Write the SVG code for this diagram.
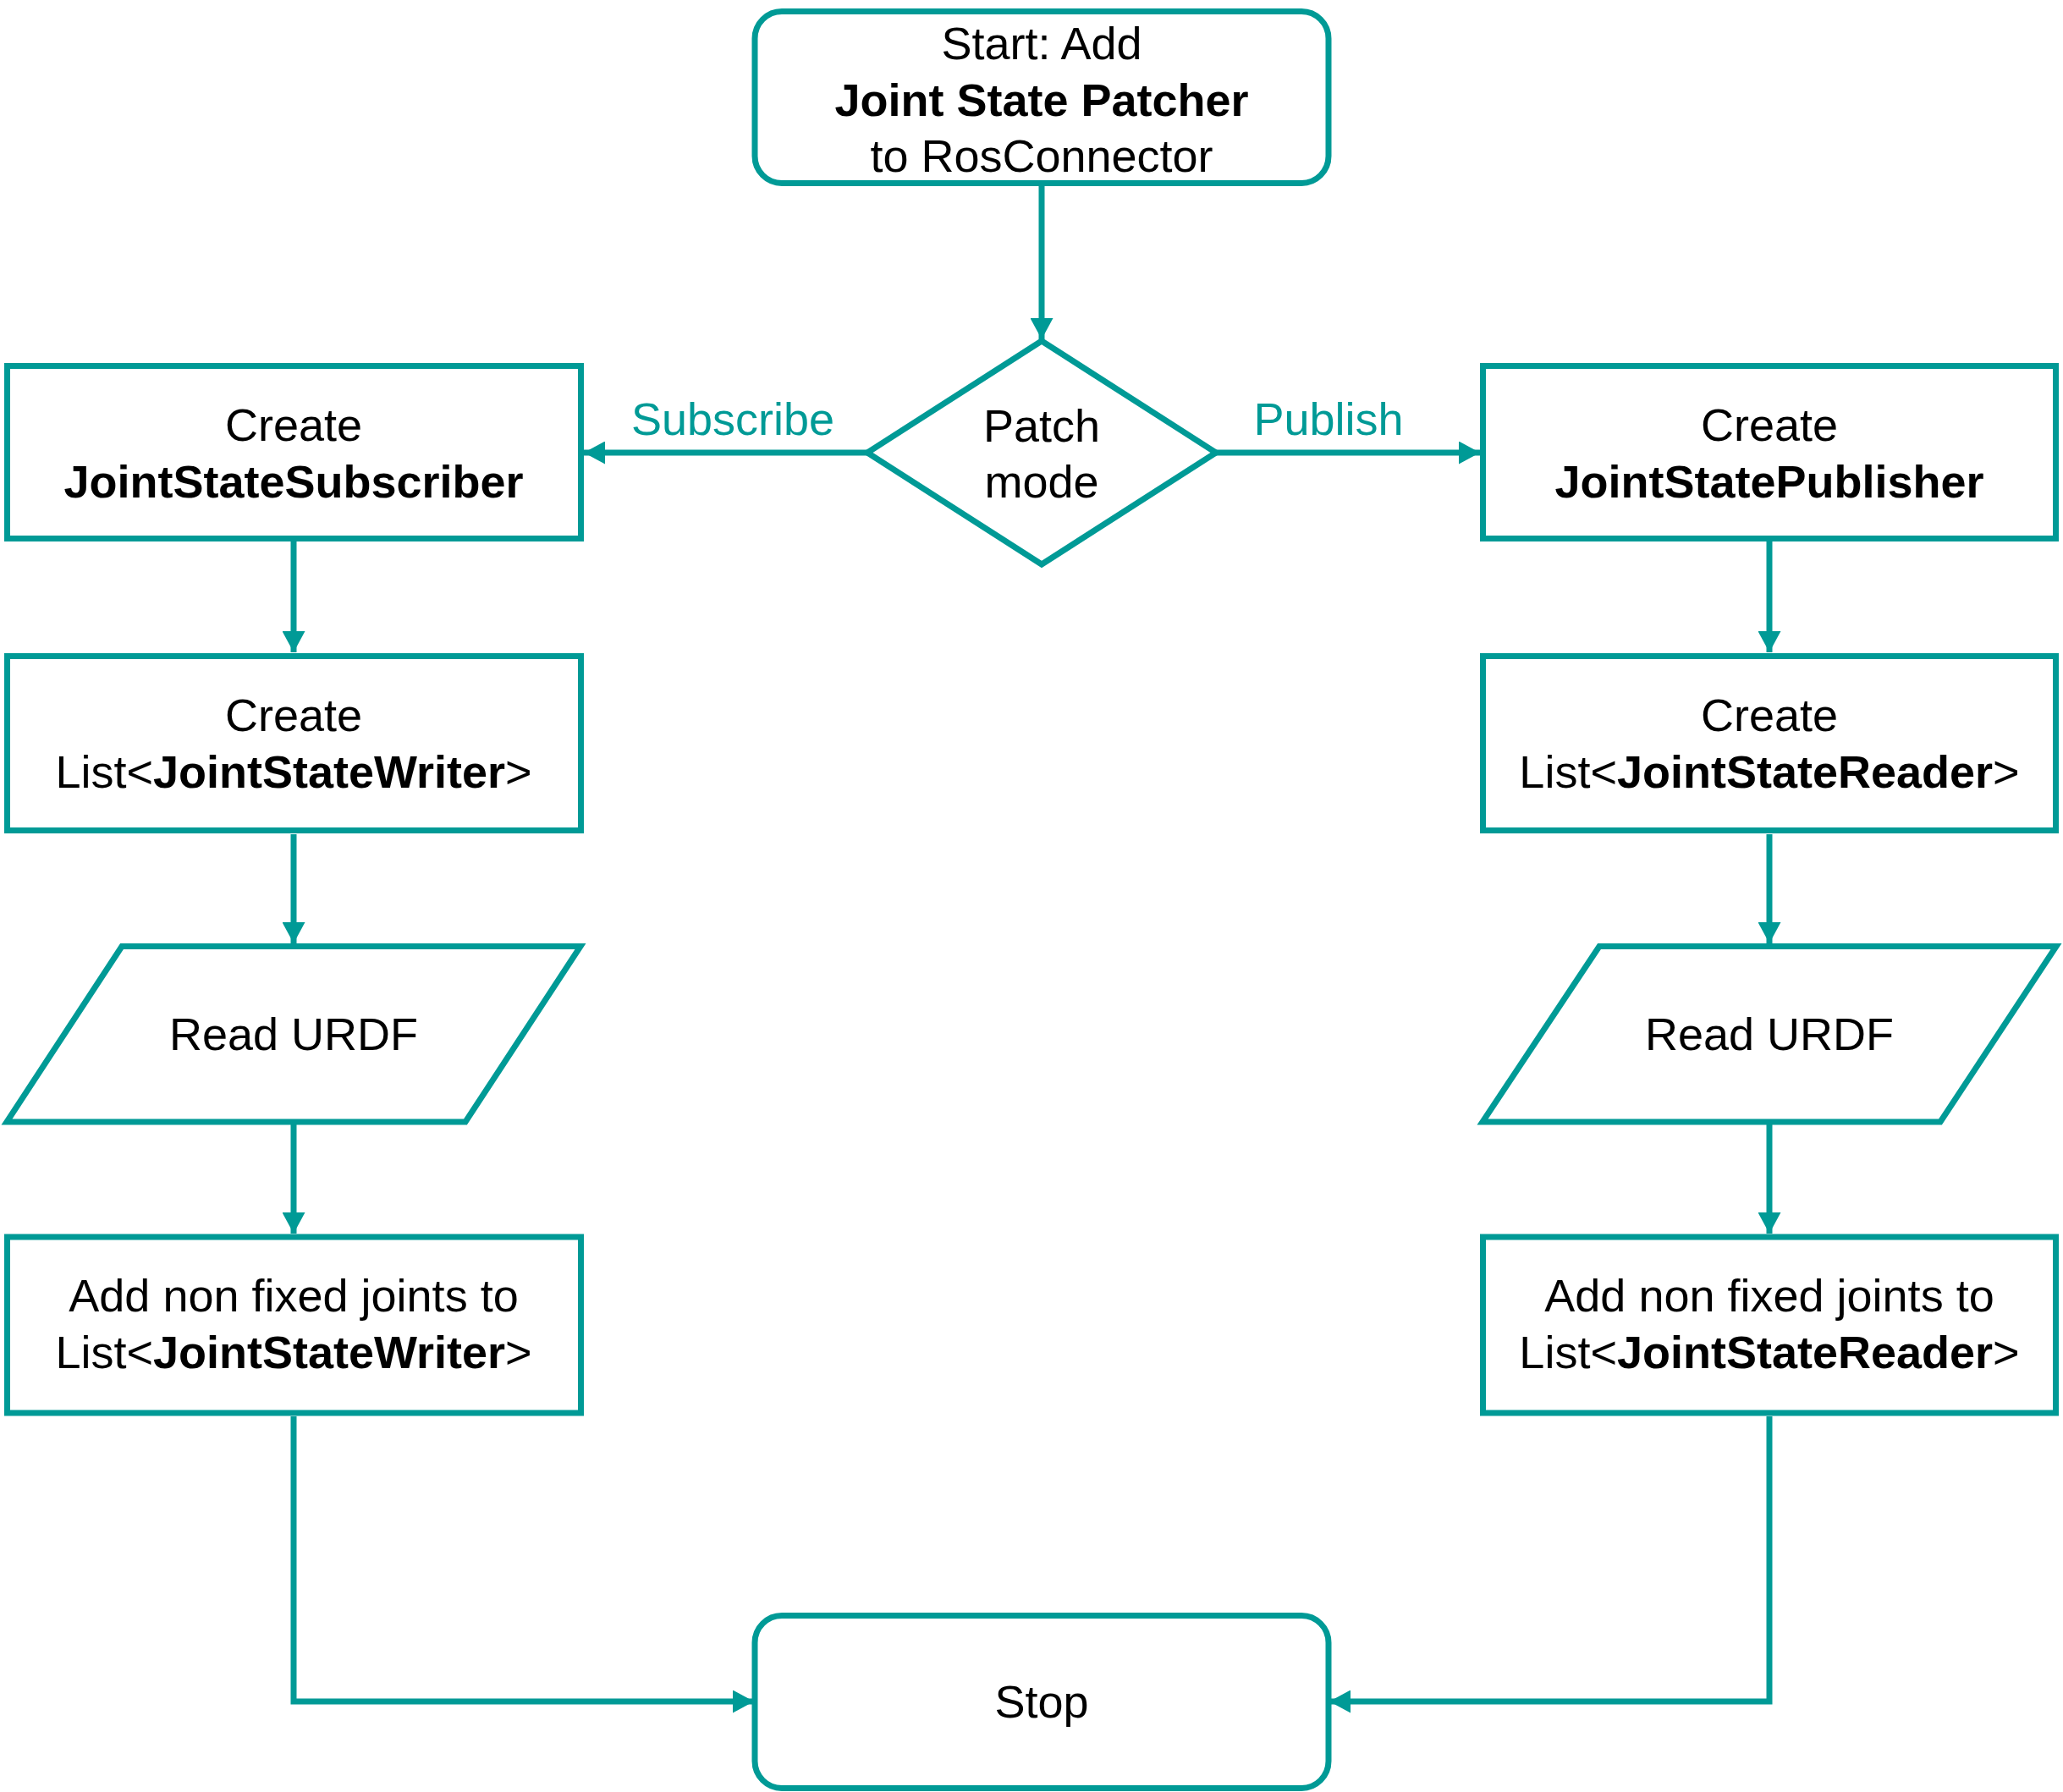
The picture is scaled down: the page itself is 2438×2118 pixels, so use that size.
<svg xmlns="http://www.w3.org/2000/svg" width="2438" height="2118" viewBox="0 0 2438 2118">
<style>
.n{fill:#fff;stroke:#009A96;stroke-width:7}
.c{fill:none;stroke:#009A96;stroke-width:7}
.t{font-family:"Liberation Sans",Arial,sans-serif;font-size:54px;fill:#000;text-anchor:middle}
.b{font-weight:bold}
.l{font-family:"Liberation Sans",Arial,sans-serif;font-size:54px;fill:#009A96;text-anchor:middle}
</style>
<defs>
<marker id="ah" markerUnits="userSpaceOnUse" markerWidth="25" markerHeight="27" refX="25" refY="13.5" orient="auto">
<path d="M0,0 L25,13.5 L0,27 z" fill="#009A96"/>
</marker>
</defs>
<rect width="2438" height="2118" fill="#fff"/>
<g id="connectors">
<line class="c" x1="1231" y1="220" x2="1231" y2="401" marker-end="url(#ah)"/>
<line class="c" x1="1025" y1="535" x2="690" y2="535" marker-end="url(#ah)"/>
<line class="c" x1="1437" y1="535" x2="1749" y2="535" marker-end="url(#ah)"/>
<line class="c" x1="347" y1="640" x2="347" y2="771" marker-end="url(#ah)"/>
<line class="c" x1="347" y1="986" x2="347" y2="1115" marker-end="url(#ah)"/>
<line class="c" x1="347" y1="1329" x2="347" y2="1458" marker-end="url(#ah)"/>
<path class="c" d="M347,1674 V2011 H891" marker-end="url(#ah)"/>
<line class="c" x1="2091" y1="640" x2="2091" y2="771" marker-end="url(#ah)"/>
<line class="c" x1="2091" y1="986" x2="2091" y2="1115" marker-end="url(#ah)"/>
<line class="c" x1="2091" y1="1329" x2="2091" y2="1458" marker-end="url(#ah)"/>
<path class="c" d="M2091,1674 V2011 H1571" marker-end="url(#ah)"/>
<text class="l" x="866" y="514">Subscribe</text>
<text class="l" x="1570" y="514">Publish</text>
</g>
<g id="start">
<rect class="n" x="892" y="13.5" width="678" height="203" rx="32"/>
<text class="t" x="1231" y="70">Start: Add</text>
<text class="t b" x="1231" y="137">Joint State Patcher</text>
<text class="t" x="1231" y="203">to RosConnector</text>
</g>
<g id="patch-mode">
<polygon class="n" points="1231,403 1437,535 1231,667 1025,535"/>
<text class="t" x="1231" y="522">Patch</text>
<text class="t" x="1231" y="588">mode</text>
</g>
<g id="create-subscriber">
<rect class="n" x="8.5" y="432.5" width="678" height="204"/>
<text class="t" x="347" y="521">Create</text>
<text class="t b" x="347" y="588">JointStateSubscriber</text>
</g>
<g id="create-writer-list">
<rect class="n" x="8.5" y="775.5" width="678" height="206"/>
<text class="t" x="347" y="864">Create</text>
<text class="t" x="347" y="931">List&lt;<tspan class="b">JointStateWriter</tspan>&gt;</text>
</g>
<g id="read-urdf-left">
<polygon class="n" points="144,1118.5 686,1118.5 550,1326 8,1326"/>
<text class="t" x="347" y="1241">Read URDF</text>
</g>
<g id="add-writer-joints">
<rect class="n" x="8.5" y="1462" width="678" height="208"/>
<text class="t" x="347" y="1550">Add non fixed joints to</text>
<text class="t" x="347" y="1617">List&lt;<tspan class="b">JointStateWriter</tspan>&gt;</text>
</g>
<g id="create-publisher">
<rect class="n" x="1752.5" y="432.5" width="677" height="204"/>
<text class="t" x="2091" y="521">Create</text>
<text class="t b" x="2091" y="588">JointStatePublisher</text>
</g>
<g id="create-reader-list">
<rect class="n" x="1752.5" y="775.5" width="677" height="206"/>
<text class="t" x="2091" y="864">Create</text>
<text class="t" x="2091" y="931">List&lt;<tspan class="b">JointStateReader</tspan>&gt;</text>
</g>
<g id="read-urdf-right">
<polygon class="n" points="1890,1118.5 2430,1118.5 2293,1326 1752,1326"/>
<text class="t" x="2091" y="1241">Read URDF</text>
</g>
<g id="add-reader-joints">
<rect class="n" x="1752.5" y="1462" width="677" height="208"/>
<text class="t" x="2091" y="1550">Add non fixed joints to</text>
<text class="t" x="2091" y="1617">List&lt;<tspan class="b">JointStateReader</tspan>&gt;</text>
</g>
<g id="stop">
<rect class="n" x="892" y="1909.5" width="678" height="204" rx="32"/>
<text class="t" x="1231" y="2030">Stop</text>
</g>
</svg>
